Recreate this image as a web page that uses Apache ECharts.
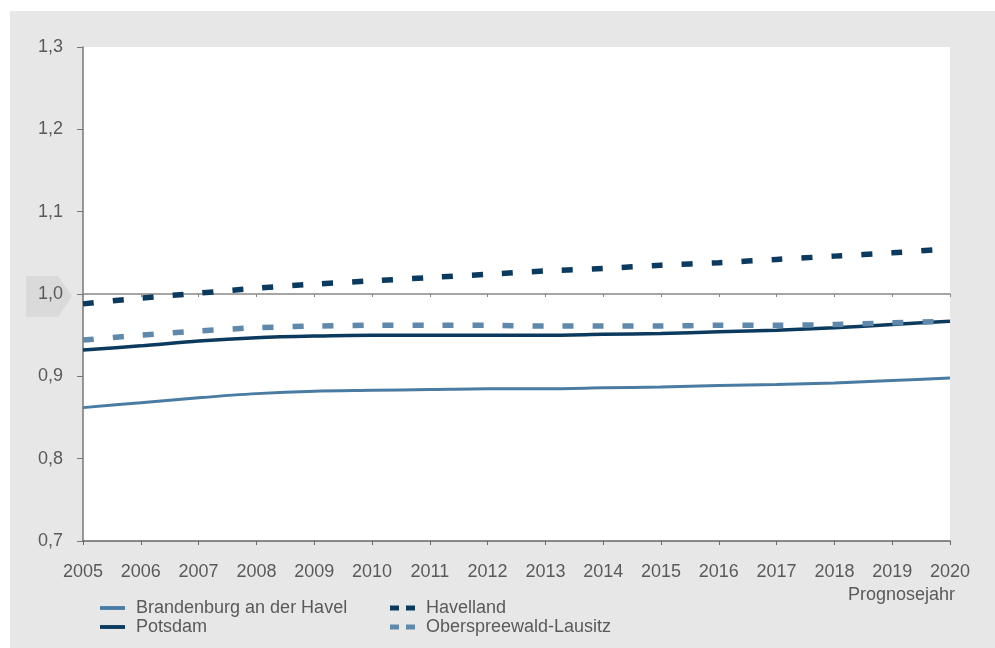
<!DOCTYPE html>
<html>
<head>
<meta charset="utf-8">
<script src="https://cdn.jsdelivr.net/npm/echarts@6/dist/echarts.min.js"></script>
<style>html,body{margin:0;padding:0;background:#fff;}#c{width:995px;height:648px;}</style>
</head>
<body>
<div id="c"></div>
<script>
var years = ['2005','2006','2007','2008','2009','2010','2011','2012','2013','2014','2015','2016','2017','2018','2019','2020'];
var brandenburg = [0.862,0.868,0.874,0.879,0.882,0.883,0.884,0.885,0.885,0.886,0.887,0.889,0.890,0.892,0.895,0.898];
var potsdam = [0.932,0.937,0.943,0.947,0.949,0.950,0.950,0.950,0.950,0.951,0.952,0.954,0.956,0.959,0.963,0.967];
var havelland = [0.988,0.995,1.001,1.007,1.012,1.016,1.020,1.024,1.028,1.031,1.035,1.038,1.042,1.046,1.050,1.055];
var osl = [0.944,0.950,0.955,0.959,0.961,0.962,0.962,0.962,0.961,0.961,0.961,0.962,0.962,0.963,0.965,0.967];
var names = ['Brandenburg an der Havel','Potsdam','Havelland','Oberspreewald-Lausitz'];
var yMin = 0.7, yMax = 1.3, yStep = 0.1;

var chart = echarts.init(document.getElementById('c'));
var font = 'Liberation Sans, Arial, sans-serif';
var txt = '#5a5a5a';
var solidIcon = 'path://M0,0h26v4h-26z';
var dashIcon = 'path://M0,0h9v5h-9z M16,0h9v5h-9z';
function mk(name, data, color, width, type) {
  return {
    name: name, type: 'line', data: data, smooth: 0.3, symbol: 'none',
    lineStyle: { color: color, width: width, type: type },
    itemStyle: { color: color }, z: 5
  };
}
var legendText = { color: txt, fontSize: 18, fontFamily: font, padding: [0, 0, 0, 6] };
chart.setOption({
  animation: false,
  backgroundColor: '#fff',
  graphic: [
    { type: 'rect', left: 10, top: 11, shape: { width: 985, height: 637 }, style: { fill: '#e7e7e7' }, z: -10 },
    { type: 'polygon', shape: { points: [[26,276],[58,276],[72,296],[58,317],[26,317]] }, style: { fill: '#dadada' }, z: -5 },
    { type: 'text', right: 40, top: 586, style: { text: 'Prognosejahr', fill: txt, font: '18px ' + font } }
  ],
  grid: { left: 83, right: 45, top: 47, bottom: 107, show: true, backgroundColor: '#fff', borderWidth: 0 },
  legend: [
    { data: [{ name: names[0], icon: solidIcon }, { name: names[1], icon: solidIcon }],
      orient: 'vertical', left: 95, top: 594, itemGap: 1, itemWidth: 25, itemHeight: 18,
      textStyle: legendText },
    { data: [{ name: names[2], icon: dashIcon }, { name: names[3], icon: dashIcon }],
      orient: 'vertical', left: 385, top: 594, itemGap: 1, itemWidth: 25, itemHeight: 18,
      textStyle: legendText }
  ],
  xAxis: [
    { type: 'category', data: years, boundaryGap: false,
      axisLine: { lineStyle: { color: '#666', width: 1.5 } },
      axisTick: { show: true, length: 4, lineStyle: { color: '#666' } },
      axisLabel: { color: txt, fontSize: 18, fontFamily: font, margin: 22 },
      splitLine: { show: false } },
    { type: 'category', data: years, boundaryGap: false, position: 'bottom', offset: -247,
      axisLine: { lineStyle: { color: '#888', width: 1.5 } },
      axisTick: { show: true, length: 3, lineStyle: { color: '#888' } },
      axisLabel: { show: false }, splitLine: { show: false } }
  ],
  yAxis: {
    type: 'value', min: yMin, max: yMax, interval: yStep,
    axisLine: { show: true, lineStyle: { color: '#777', width: 1.5 } },
    axisTick: { show: true, length: 6, lineStyle: { color: '#777' } },
    axisLabel: { color: txt, fontSize: 18, fontFamily: font, margin: 20,
      formatter: function (v) { return v.toFixed(1).replace('.', ','); } },
    splitLine: { show: false }
  },
  series: [
    mk(names[0], brandenburg, '#4a7ba3', 3, 'solid'),
    mk(names[1], potsdam, '#0c3a5e', 3.5, 'solid'),
    mk(names[2], havelland, '#0c3a5e', 5.5, [11, 19]),
    mk(names[3], osl, '#5f88aa', 5.5, [11, 19])
  ]
});
</script>
</body>
</html>
